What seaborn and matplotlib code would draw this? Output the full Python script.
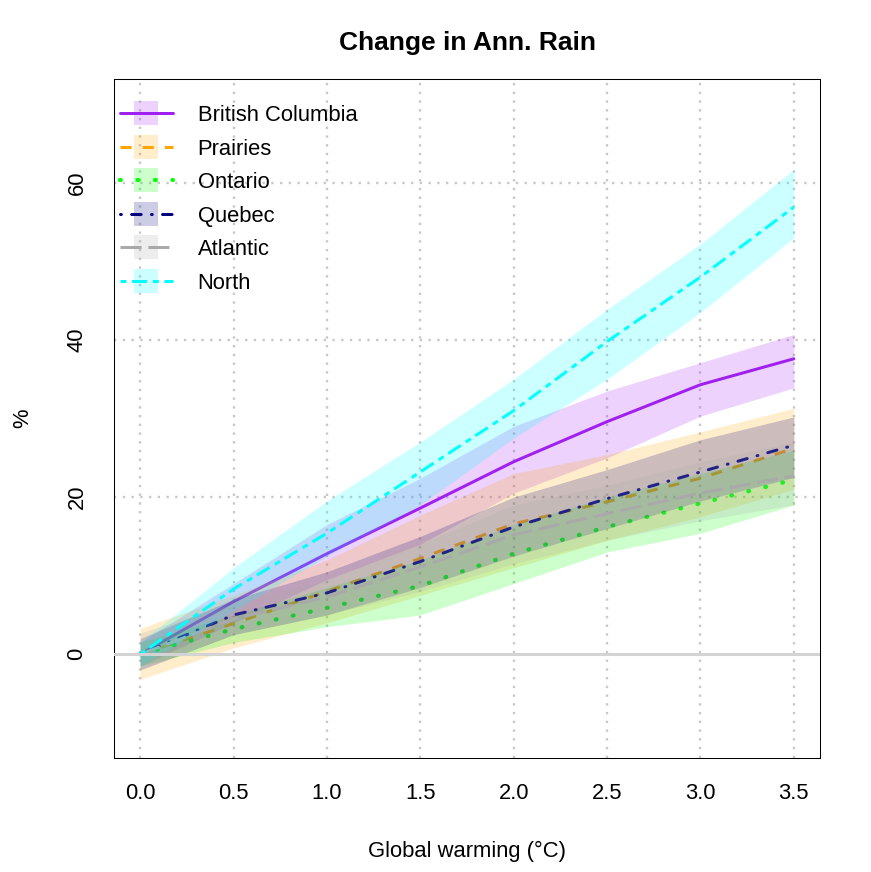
import numpy as np
import pandas as pd
import seaborn as sns
import matplotlib
matplotlib.use("Agg")
import matplotlib.pyplot as plt
import matplotlib.patches as mpatches
from matplotlib.lines import Line2D
from matplotlib.legend_handler import HandlerPatch, HandlerTuple

# data
warming = [0.0, 0.5, 1.0, 1.5, 2.0, 2.5, 3.0, 3.5]

bc_mean = [0, 6.7, 12.8, 18.6, 24.5, 29.6, 34.3, 37.6]
bc_lo = [-1.5, 4.0, 9.5, 14.0, 20.5, 25.0, 30.3, 33.9]
bc_hi = [1.5, 9.0, 16.5, 22.4, 29.0, 33.5, 37.1, 40.7]

prairies_mean = [0, 3.9, 8.0, 12.2, 16.6, 19.4, 22.4, 26.2]
prairies_lo = [-3.2, 0.8, 4.0, 7.5, 11.0, 14.5, 17.5, 21.0]
prairies_hi = [3.3, 7.5, 12.0, 17.7, 23.0, 25.4, 28.3, 31.3]

ontario_mean = [0, 3.2, 5.9, 8.7, 12.8, 16.2, 19.2, 22.2]
ontario_lo = [-1.5, 1.5, 3.5, 5.0, 9.0, 13.0, 15.4, 19.0]
ontario_hi = [1.5, 5.0, 8.5, 12.0, 16.5, 20.0, 23.0, 26.0]

quebec_mean = [0, 5.0, 7.8, 11.8, 16.2, 19.8, 23.2, 26.6]
quebec_lo = [-2.0, 2.5, 5.0, 8.5, 12.5, 16.0, 19.5, 22.5]
quebec_hi = [2.0, 7.0, 10.5, 15.0, 20.0, 23.5, 27.3, 30.2]

atlantic_mean = [0, 4.5, 7.3, 11.1, 15.2, 17.9, 20.5, 22.7]
atlantic_lo = [-1.8, 2.5, 5.0, 8.0, 11.5, 14.5, 17.0, 19.0]
atlantic_hi = [2.7, 6.5, 9.5, 14.0, 19.0, 21.5, 24.5, 27.0]

north_mean = [0, 8.3, 15.4, 23.2, 31.0, 39.8, 48.0, 56.9]
north_lo = [-1.5, 5.5, 12.5, 19.0, 27.5, 35.0, 43.5, 53.0]
north_hi = [1.5, 11.0, 19.5, 27.0, 35.0, 43.9, 52.2, 61.7]

regions = ["British Columbia", "Prairies", "Ontario", "Quebec", "Atlantic", "North"]
means = [bc_mean, prairies_mean, ontario_mean, quebec_mean, atlantic_mean, north_mean]
lows = [bc_lo, prairies_lo, ontario_lo, quebec_lo, atlantic_lo, north_lo]
highs = [bc_hi, prairies_hi, ontario_hi, quebec_hi, atlantic_hi, north_hi]
colors = ["#A020F0", "#FFA500", "#00FF00", "#000080", "#A9A9A9", "#00FFFF"]
styles = ["-", (0, (3.7, 3.7)), (0, (0.2, 4.0)), (0, (0.3, 3.4, 3.2, 3.4)),
          (0, (7, 2.3)), (0, (2, 1.8, 5, 2))]
caps = ["round", "butt", "round", "round", "butt", "butt"]
widths = [2.16, 2.16, 3.0, 2.16, 2.16, 2.16]

sns.set_style("white")
plt.rcParams['font.family'] = ['Liberation Sans', 'DejaVu Sans']
plt.rcParams['text.color'] = 'black'
plt.rcParams['axes.labelcolor'] = 'black'
fs = 15.8

fig = plt.figure(figsize=(8.71, 8.72), dpi=100)
ax = fig.add_axes([114/871, 1-758/872, 706/871, 679/872])

ax.set_xlim(-0.14, 3.64)
ax.set_ylim(-13.2, 73.2)

# grid
for gx in warming:
    ax.axvline(gx, color="#c8c8c8", lw=1.7, ls=(0, (1, 2.7)), zorder=0)
for gy in [20, 40, 60]:
    ax.axhline(gy, color="#c8c8c8", lw=1.7, ls=(0, (1, 2.7)), zorder=0)

z = 1
for name, m, lo, hi, c, st, cp, w in zip(regions, means, lows, highs, colors, styles, caps, widths):
    ax.fill_between(warming, lo, hi, color=c, alpha=0.2, lw=0, zorder=z)
    df = pd.DataFrame({"warming": warming, "change": m})
    sns.lineplot(data=df, x="warming", y="change", ax=ax, color=c, lw=w,
                 linestyle=st, dash_capstyle=cp, solid_capstyle="round",
                 errorbar=None, zorder=z + 1)
    z += 2

ax.axhline(0, color="#d3d3d3", lw=2.2, zorder=z + 1)

ax.set_xticks(warming)
ax.set_xticklabels([f"{v:.1f}" for v in warming])
ax.set_yticks([0, 20, 40, 60])
ax.set_yticklabels(["0", "20", "40", "60"], rotation=90, va="center")
ax.tick_params(axis="both", direction="out", length=10, width=0.75,
               labelsize=fs, color="black", labelcolor="black")
ax.tick_params(axis="x", pad=8)
ax.tick_params(axis="y", pad=9)
for sp in ax.spines.values():
    sp.set_visible(True)
    sp.set_color("black")
    sp.set_linewidth(0.75)

ax.set_xlabel("Global warming (°C)", fontsize=fs, labelpad=26.5)
ax.set_ylabel("%", fontsize=fs, labelpad=24)
ax.set_title("Change in Ann. Rain", fontsize=fs * 1.2, fontweight="bold", pad=21)


def square(legend, orig_handle, xdescent, ydescent, width, height, fontsize):
    s = 1.1 * fontsize
    return mpatches.Rectangle((-xdescent + width / 2 - s / 2, -ydescent + height / 2 - s / 2), s, s)


handles = []
for c, st, cp, w in zip(colors, styles, caps, widths):
    p = mpatches.Patch(facecolor=c, alpha=0.2, lw=0)
    l = Line2D([], [], color=c, lw=w, linestyle=st, dash_capstyle=cp, solid_capstyle="round")
    handles.append((p, l))

ax.legend(handles, regions, loc="upper left", bbox_to_anchor=(6/706, 1 - 26/679),
          frameon=False, fontsize=fs, borderpad=0, borderaxespad=0,
          handlelength=2.4, handletextpad=1.14, labelspacing=0.57,
          handler_map={mpatches.Patch: HandlerPatch(patch_func=square),
                       tuple: HandlerTuple(ndivide=1)})

fig.savefig("out.png", dpi=100)
